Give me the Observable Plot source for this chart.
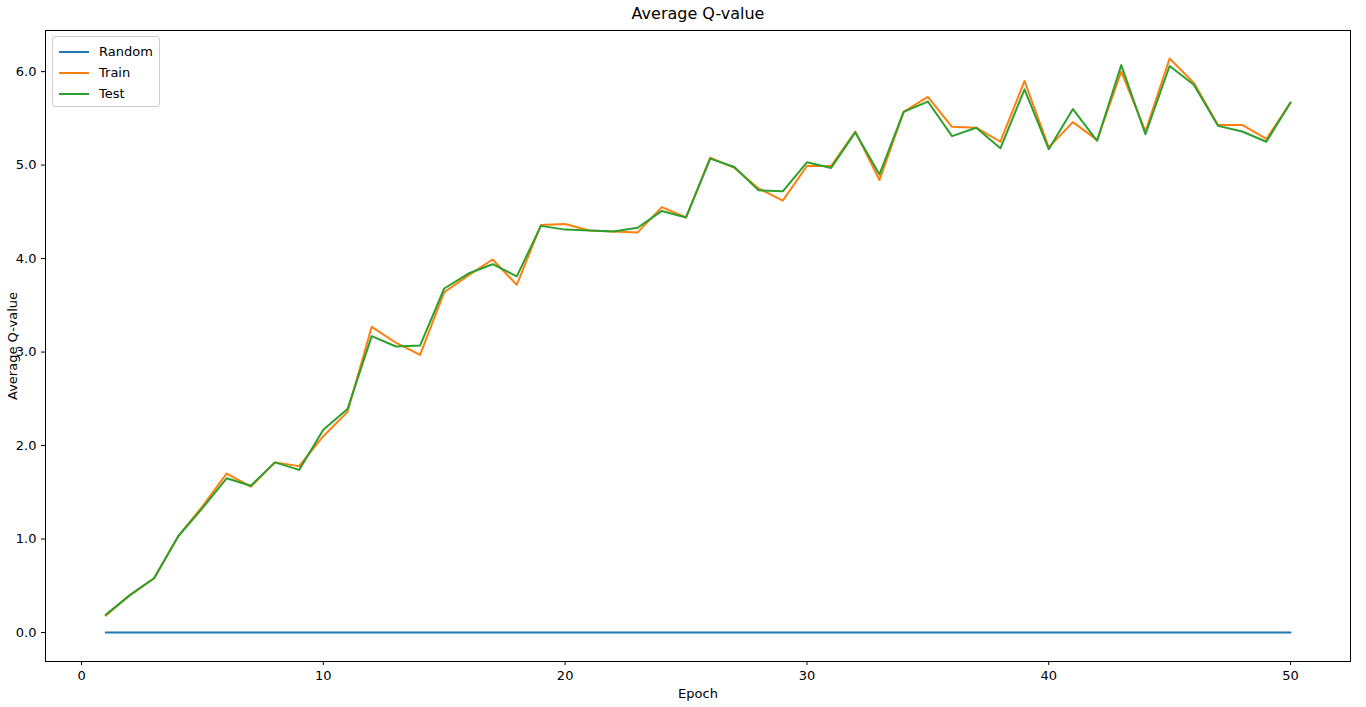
<!DOCTYPE html>
<html>
<head>
<meta charset="utf-8">
<script src="https://cdn.jsdelivr.net/npm/d3@7"></script>
<script src="https://cdn.jsdelivr.net/npm/@observablehq/plot@0.6"></script>
<style>
  body { margin: 0; background: #fff; font-family: "DejaVu Sans", sans-serif; }
  #wrap { position: relative; width: 1366px; }
  #title { height: 22px; line-height: 28px; text-align: center; font-size: 16px; padding-left: 30px; }
  #legend { position: absolute; left: 52px; top: 36px; border: 1px solid #ccc; border-radius: 3px;
            background: #fff; padding: 4px 6px 2px 6px; font-size: 13px; }
  #legend div { display: flex; align-items: center; height: 21px; }
  #legend span.sw { display: inline-block; width: 30px; height: 2px; margin-right: 10px; }
</style>
</head>
<body>
<div id="wrap">
  <div id="title">Average Q-value</div>
  <div id="chart"></div>
  <div id="legend"></div>
</div>
<script>
const epochs = d3.range(1, 51)
const random = epochs.map(() => 0)
const train = [0.18, 0.40, 0.58, 1.03, 1.35, 1.70, 1.56, 1.82, 1.78, 2.10,
  2.36, 3.27, 3.10, 2.97, 3.64, 3.82, 3.99, 3.72, 4.36, 4.37,
  4.30, 4.29, 4.28, 4.55, 4.44, 5.08, 4.97, 4.75, 4.62, 4.99,
  4.99, 5.36, 4.84, 5.57, 5.73, 5.41, 5.40, 5.25, 5.90, 5.19,
  5.46, 5.27, 6.00, 5.36, 6.14, 5.88, 5.43, 5.43, 5.28, 5.67]
const test = [0.19, 0.40, 0.58, 1.03, 1.33, 1.65, 1.57, 1.82, 1.74, 2.17,
  2.39, 3.17, 3.06, 3.07, 3.68, 3.84, 3.94, 3.81, 4.35, 4.31,
  4.30, 4.29, 4.33, 4.51, 4.44, 5.07, 4.98, 4.73, 4.72, 5.03,
  4.97, 5.35, 4.90, 5.57, 5.68, 5.31, 5.40, 5.18, 5.81, 5.17,
  5.60, 5.26, 6.07, 5.33, 6.06, 5.86, 5.42, 5.36, 5.25, 5.67]
const series = ["Random", "Train", "Test"]
const colors = ["#1f77b4", "#ff7f0e", "#2ca02c"]

const rows = []
epochs.forEach((e, i) => {
  rows.push({epoch: e, value: random[i], s: "Random"})
  rows.push({epoch: e, value: train[i], s: "Train"})
  rows.push({epoch: e, value: test[i], s: "Test"})
})

let chart = Plot.plot({
  width: 1366,
  height: 685,
  marginLeft: 45,
  marginRight: 16,
  marginTop: 8,
  marginBottom: 46,
  x: { domain: [-1.49, 52.48], ticks: [0, 10, 20, 30, 40, 50], tickSize: 4, label: "Epoch", labelAnchor: "center", labelOffset: 36 },
  y: { domain: [-0.31, 6.44], ticks: [0, 1, 2, 3, 4, 5, 6], tickSize: 4, label: "Average Q-value", labelAnchor: "center", labelOffset: 38 },
  color: { domain: series, range: colors },
  style: { fontFamily: "DejaVu Sans", fontSize: "13px", color: "black" },
  marks: [
    Plot.frame({stroke: "black"}),
    Plot.axisX({ticks: [0, 10, 20, 30, 40, 50], tickSize: 4, label: "Epoch", labelAnchor: "center", labelArrow: "none", labelOffset: 36, fontSize: 13}),
    Plot.axisY({ticks: [0, 1, 2, 3, 4, 5, 6], tickSize: 4, label: "Average Q-value", labelAnchor: "center", labelArrow: "none", labelOffset: 38, fontSize: 13}),
    Plot.line(rows, {x: "epoch", y: "value", z: "s", stroke: "s", strokeWidth: 2})
  ]
})
d3.select('#chart').append(() => chart)

const lg = d3.select('#legend')
series.forEach((s, i) => {
  const r = lg.append('div')
  r.append('span').attr('class', 'sw').style('background', colors[i])
  r.append('span').text(s)
})
</script>
</body>
</html>
